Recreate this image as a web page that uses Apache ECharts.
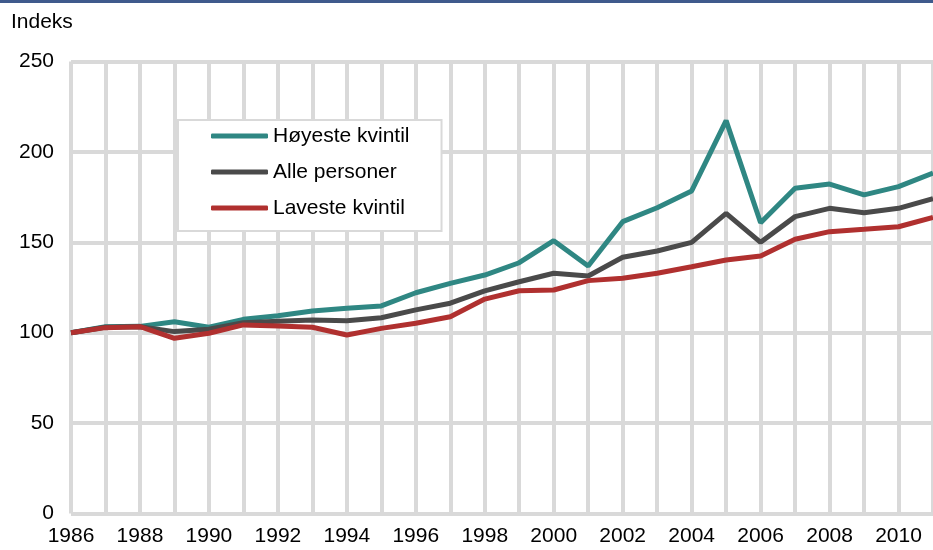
<!DOCTYPE html>
<html>
<head>
<meta charset="utf-8">
<script src="https://cdn.jsdelivr.net/npm/echarts@6/dist/echarts.min.js"></script>
<style>
  html, body { margin: 0; padding: 0; background: #fff; }
  #chart { width: 933px; height: 550px; }
</style>
</head>
<body>
<div id="chart"></div>
<script>
const years = [
  '1986', '1987', '1988', '1989', '1990', '1991', '1992', '1993', '1994',
  '1995', '1996', '1997', '1998', '1999', '2000', '2001', '2002', '2003',
  '2004', '2005', '2006', '2007', '2008', '2009', '2010', '2011'
];

// Høyeste kvintil
const hoyeste = [
  100, 103.3, 103.5, 106.1, 103, 107.4, 109.4, 112, 113.5,
  114.8, 122.1, 127.3, 131.9, 138.7, 150.9, 136.9, 161.4, 169.1,
  178.4, 217.3, 160.8, 179.9, 182.2, 176.2, 180.8, 188.3
];

// Alle personer
const alle = [
  100, 103, 103.3, 100.6, 101.9, 105.5, 106.3, 107, 106.6,
  108.3, 112.6, 116.3, 123.1, 128.2, 132.9, 131.4, 141.7, 145.2,
  150, 166, 150, 164.2, 168.8, 166.4, 168.8, 174.2
];

// Laveste kvintil
const laveste = [
  100, 102.8, 103.3, 96.9, 99.7, 104.3, 103.7, 103, 98.7,
  102.4, 105.2, 108.8, 118.6, 123.2, 123.6, 128.8, 130.1, 132.9,
  136.5, 140.2, 142.4, 151.7, 155.9, 157.2, 158.6, 163.7
];

const chart = echarts.init(document.getElementById('chart'));

const font = 'Arial, "Liberation Sans", sans-serif';
const gridColor = '#d9d9d9';

const makeLine = (name, data, color) => ({
  name: name,
  type: 'line',
  data: data,
  showSymbol: false,
  symbol: 'none',
  lineStyle: { color: color, width: 5 },
  itemStyle: { color: color }
});

const option = {
  animation: false,
  backgroundColor: '#fff',
  textStyle: { fontFamily: font },
  graphic: [
    {
      type: 'rect',
      left: 0,
      top: 0,
      shape: { width: 933, height: 3 },
      style: { fill: '#3f5a8c' }
    },
    {
      type: 'text',
      left: 11,
      top: 12,
      style: { text: 'Indeks', fontSize: 21, fontFamily: font, fill: '#000' }
    }
  ],
  grid: {
    left: 71,
    right: -7,
    top: 61.5,
    bottom: 36.5
  },
  legend: {
    orient: 'vertical',
    left: 178,
    top: 120,
    padding: [5, 32, 12, 33],
    itemGap: 14,
    itemWidth: 57,
    itemHeight: 5,
    icon: 'roundRect',
    backgroundColor: '#fff',
    borderColor: gridColor,
    borderWidth: 2,
    textStyle: { fontSize: 21, color: '#000', fontFamily: font, lineHeight: 22 },
    data: ['Høyeste kvintil', 'Alle personer', 'Laveste kvintil']
  },
  xAxis: {
    type: 'category',
    data: years,
    boundaryGap: false,
    axisLine: { show: false },
    axisTick: { show: false },
    axisLabel: { interval: 1, fontSize: 21, color: '#000', margin: 12 },
    splitLine: { show: true, interval: 0, lineStyle: { color: gridColor, width: 4 } }
  },
  yAxis: {
    type: 'value',
    min: 0,
    max: 250,
    interval: 50,
    axisLine: { show: false },
    axisTick: { show: false },
    axisLabel: { fontSize: 21, color: '#000', margin: 17 },
    splitLine: { show: true, lineStyle: { color: gridColor, width: 4 } }
  },
  series: [
    makeLine('Høyeste kvintil', hoyeste, '#2f8783'),
    makeLine('Alle personer', alle, '#4a4a4a'),
    makeLine('Laveste kvintil', laveste, '#b0302f')
  ]
};

chart.setOption(option);
</script>
</body>
</html>
